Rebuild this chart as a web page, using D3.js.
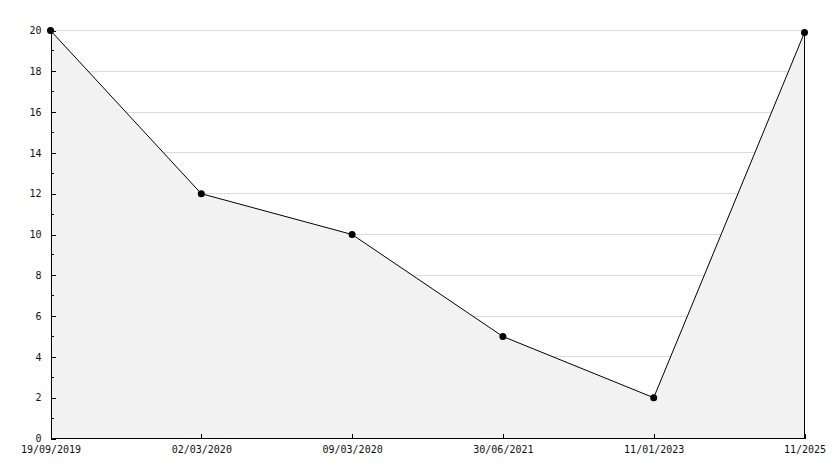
<!DOCTYPE html>
<html>
<head>
<meta charset="utf-8">
<script src="https://cdn.jsdelivr.net/npm/d3@7"></script>
<style>
  body { margin: 0; background: #fff; }
  svg text { font-family: "DejaVu Sans Mono", monospace; font-size: 10px; fill: #111; }
</style>
</head>
<body>
<svg id="chart" width="834" height="468"></svg>
<script>
// chart data
const dates = ['19/09/2019', '02/03/2020', '09/03/2020', '30/06/2021', '11/01/2023', '11/2025'];
const values = [20, 12, 10, 5, 2, 19.9];
const yTicks = [0, 2, 4, 6, 8, 10, 12, 14, 16, 18, 20];
const yMinorTicks = [1, 3, 5, 7, 9, 11, 13, 15, 17, 19];

const svg = d3.select('#chart');

const plotLeft = 50.5, plotRight = 804.5, plotTop = 30.5, plotBottom = 438.5;

const x = d3.scalePoint()
    .domain(dates)
    .range([plotLeft, plotRight])
    .padding(0);

const y = d3.scaleLinear()
    .domain([0, 20])
    .range([plotBottom, plotTop]);

const pts = dates.map((d, i) => ({ date: d, value: values[i] }));

// grid lines
svg.append('g')
    .selectAll('line')
    .data(yTicks.filter(d => d > 0))
    .enter()
    .append('line')
    .attr('x1', plotLeft)
    .attr('x2', plotRight)
    .attr('y1', d => Math.round(y(d) - 0.5) + 0.5)
    .attr('y2', d => Math.round(y(d) - 0.5) + 0.5)
    .attr('stroke', '#dcdcdc')
    .attr('shape-rendering', 'crispEdges');

// filled area under the line
const area = d3.area()
    .x(d => x(d.date))
    .y0(y(0))
    .y1(d => y(d.value));

svg.append('path')
    .datum(pts)
    .attr('d', area)
    .attr('fill', '#f2f2f2');

// right edge of the area
svg.append('line')
    .attr('x1', x(dates[dates.length - 1]))
    .attr('x2', x(dates[dates.length - 1]))
    .attr('y1', y(values[values.length - 1]))
    .attr('y2', y(0))
    .attr('stroke', '#000')
    .attr('shape-rendering', 'crispEdges');

// y axis, ticks point into the plot
const yAxis = d3.axisLeft(y)
    .tickValues(yTicks)
    .tickSize(-5)
    .tickPadding(9)
    .tickFormat(d3.format('d'));

const gy = svg.append('g')
    .attr('transform', `translate(${plotLeft},0)`)
    .call(yAxis);
gy.select('.domain').attr('stroke', '#000').attr('shape-rendering', 'crispEdges');
gy.selectAll('.tick line').attr('stroke', '#000').attr('shape-rendering', 'crispEdges');
gy.selectAll('.tick text').attr('font-family', null).attr('font-size', null);

// minor ticks
svg.append('g')
    .selectAll('line')
    .data(yMinorTicks)
    .enter()
    .append('line')
    .attr('x1', plotLeft)
    .attr('x2', plotLeft + 3)
    .attr('y1', d => Math.round(y(d) - 0.5) + 0.5)
    .attr('y2', d => Math.round(y(d) - 0.5) + 0.5)
    .attr('stroke', '#000')
    .attr('shape-rendering', 'crispEdges');

// x axis
const xAxis = d3.axisBottom(x)
    .tickSize(-5)
    .tickPadding(7)
    .tickSizeOuter(0);

const gx = svg.append('g')
    .attr('transform', `translate(0,${plotBottom})`)
    .call(xAxis);
gx.select('.domain').attr('stroke', '#000').attr('shape-rendering', 'crispEdges')
    .attr('d', `M${plotLeft},0H${plotRight + 1}`);
gx.selectAll('.tick line').attr('stroke', '#000').attr('shape-rendering', 'crispEdges');
gx.selectAll('.tick text').attr('font-family', null).attr('font-size', null);

// line
const line = d3.line()
    .x(d => x(d.date))
    .y(d => y(d.value));

svg.append('path')
    .datum(pts)
    .attr('d', line)
    .attr('fill', 'none')
    .attr('stroke', '#000')
    .attr('stroke-width', 1);

// markers
svg.append('g')
    .selectAll('circle')
    .data(pts)
    .enter()
    .append('circle')
    .attr('cx', d => x(d.date))
    .attr('cy', d => y(d.value))
    .attr('r', 3.5)
    .attr('fill', '#000');
</script>
</body>
</html>
